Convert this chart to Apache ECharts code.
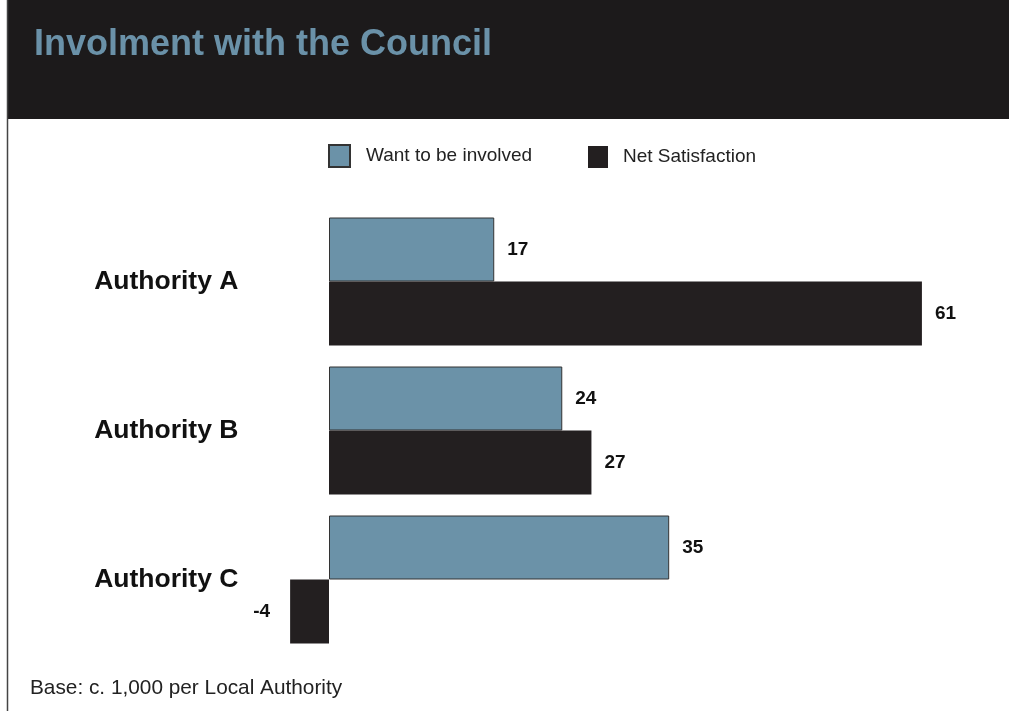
<!DOCTYPE html>
<html>
<head>
<meta charset="utf-8">
<script src="https://cdn.jsdelivr.net/npm/echarts@6/dist/echarts.min.js"></script>
<style>
  html, body { margin: 0; padding: 0; background: #fff; }
  #chart { width: 1009px; height: 711px; }
</style>
</head>
<body>
<div id="chart"></div>
<script>
// data
const authorities = ['Authority A', 'Authority B', 'Authority C'];
const wantInvolved = [17, 24, 35];
const netSatisfaction = [61, 27, -4];
const seriesNames = ['Want to be involved', 'Net Satisfaction'];

const chart = echarts.init(document.getElementById('chart'));

const valueLabel = {
  show: true,
  position: 'right',
  distance: 13,
  color: '#111',
  fontFamily: 'Liberation Sans',
  fontWeight: 'bold',
  fontSize: 19
};

// negative bars get their label on the left
const netData = netSatisfaction.map(v => v < 0
  ? { value: v, label: { position: 'left', distance: 20 } }
  : v);

const option = {
  animation: false,
  backgroundColor: '#fff',
  title: {
    text: 'Involment with the Council',
    left: 29,
    top: 22,
    textStyle: {
      color: '#6a91a8',
      fontFamily: 'Liberation Sans',
      fontWeight: 'bold',
      fontSize: 36
    }
  },
  graphic: [
    { type: 'rect', z: -1, shape: { x: 7, y: 0, width: 1002, height: 119 }, style: { fill: '#1c1a1b' } },
    { type: 'line', shape: { x1: 7.5, y1: 0, x2: 7.5, y2: 711 }, style: { stroke: '#444', lineWidth: 1.5 } },
    {
      type: 'text', left: 30, top: 678,
      style: { text: 'Base: c. 1,000 per Local Authority', fill: '#222', font: '20.8px "Liberation Sans"' }
    }
  ],
  legend: [
    {
      data: [seriesNames[0]], left: 328, top: 144, padding: 0,
      icon: 'rect', itemWidth: 21, itemHeight: 22, itemGap: 0,
      textStyle: { color: '#222', fontFamily: 'Liberation Sans', fontSize: 19, padding: [4, 0, 0, 11] }
    },
    {
      data: [seriesNames[1]], left: 588, top: 146, padding: 0,
      icon: 'rect', itemWidth: 20, itemHeight: 22, itemGap: 0,
      textStyle: { color: '#222', fontFamily: 'Liberation Sans', fontSize: 19, padding: [6, 0, 0, 10] }
    }
  ],
  grid: { left: 280.4, width: 680.4, top: 207, height: 447, containLabel: false },
  xAxis: {
    type: 'value', min: -5, max: 65, show: false
  },
  yAxis: {
    type: 'category',
    data: authorities,
    inverse: true,
    axisLine: { show: false },
    axisTick: { show: false },
    splitLine: { show: false },
    axisLabel: {
      margin: 42,
      color: '#111',
      fontFamily: 'Liberation Sans',
      fontWeight: 'bold',
      fontSize: 26.5
    }
  },
  series: [
    {
      name: seriesNames[0],
      type: 'bar',
      data: wantInvolved,
      barWidth: 64,
      barGap: '0%',
      itemStyle: { color: '#6b92a8', borderColor: '#333', borderWidth: 1 },
      label: valueLabel
    },
    {
      name: seriesNames[1],
      type: 'bar',
      data: netData,
      barWidth: 64,
      barGap: '0%',
      itemStyle: { color: '#231f20' },
      label: valueLabel
    }
  ]
};

chart.setOption(option);
</script>
</body>
</html>
